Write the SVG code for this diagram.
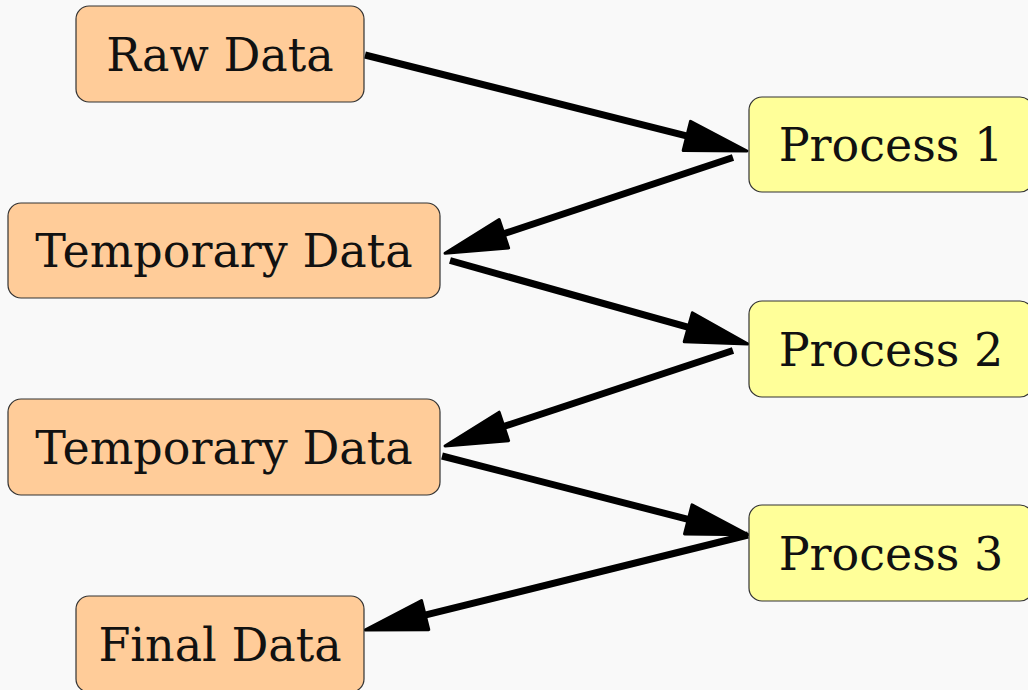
<svg xmlns="http://www.w3.org/2000/svg" width="1028" height="690" viewBox="0 0 1028 690">
<style>
.data{fill:#ffcc99;stroke:#333;stroke-width:1.2}
.proc{fill:#ffff99;stroke:#333;stroke-width:1.2}
.lbl{font-family:"DejaVu Serif",serif;font-size:46px;fill:#111;text-anchor:middle}
.edge{stroke:#000;stroke-width:7;fill:none}
</style>
<defs>
<marker id="ah" markerUnits="userSpaceOnUse" markerWidth="70" markerHeight="40" viewBox="0 -20 70 40" refX="20" refY="0" orient="auto">
<path d="M2,-15 L64,0 L2,15 Z" fill="#000" stroke="#000" stroke-width="3" stroke-linejoin="round"/>
</marker>
</defs>
<rect width="1028" height="690" fill="#f9f9f9"/>
<g id="connectors">
<line class="edge" x1="365" y1="55" x2="704.3" y2="140.3" marker-end="url(#ah)"/>
<line class="edge" x1="733" y1="157.5" x2="486.8" y2="239.4" marker-end="url(#ah)"/>
<line class="edge" x1="450" y1="260.5" x2="705.6" y2="332.1" marker-end="url(#ah)"/>
<line class="edge" x1="733" y1="350.5" x2="486.8" y2="432.1" marker-end="url(#ah)"/>
<line class="edge" x1="442" y1="456" x2="705.7" y2="523.9" marker-end="url(#ah)"/>
<line class="edge" x1="748" y1="535" x2="407.7" y2="619.4" marker-end="url(#ah)"/>
</g>
<g id="raw">
<rect class="data" x="76" y="6" width="288" height="96" rx="13"/>
<text class="lbl" x="220" y="71">Raw Data</text>
</g>
<g id="p1">
<rect class="proc" x="749" y="97" width="284" height="95" rx="13"/>
<text class="lbl" x="891" y="161">Process 1</text>
</g>
<g id="t1">
<rect class="data" x="8" y="203" width="432" height="95" rx="13"/>
<text class="lbl" x="224" y="267">Temporary Data</text>
</g>
<g id="p2">
<rect class="proc" x="749" y="301" width="284" height="96" rx="13"/>
<text class="lbl" x="891" y="366">Process 2</text>
</g>
<g id="t2">
<rect class="data" x="8" y="399" width="432" height="96" rx="13"/>
<text class="lbl" x="224" y="464">Temporary Data</text>
</g>
<g id="p3">
<rect class="proc" x="749" y="505" width="284" height="96" rx="13"/>
<text class="lbl" x="891" y="570">Process 3</text>
</g>
<g id="final">
<rect class="data" x="76" y="596" width="288" height="96" rx="13"/>
<text class="lbl" x="220" y="661">Final Data</text>
</g>
</svg>
